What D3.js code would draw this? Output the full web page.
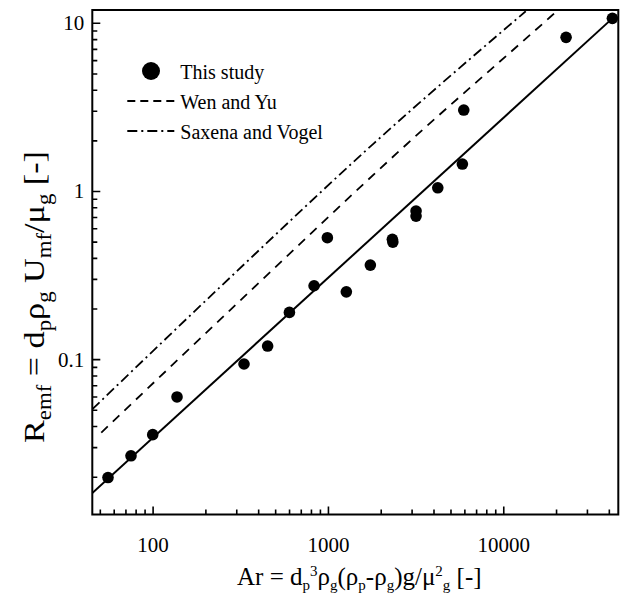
<!DOCTYPE html>
<html>
<head>
<meta charset="utf-8">
<script src="https://cdn.jsdelivr.net/npm/d3@7"></script>
<style>
  html, body { margin: 0; padding: 0; background: #fff; }
  svg { display: block; }
  text { font-family: "Liberation Serif", "Times New Roman", serif; fill: #000; }
</style>
</head>
<body>
<div id="chart"></div>
<script>
// Minimum fluidization: particle Reynolds number vs Archimedes number
const studyAr = [55.3, 74.8, 99.5, 136.9, 330, 450, 599, 828, 986, 1265, 1734, 2315, 2330, 3160, 3160, 4204, 5806, 5913, 22670, 41640];
const studyRe = [0.0199, 0.0268, 0.0358, 0.0600, 0.0942, 0.1205, 0.191, 0.275, 0.531, 0.253, 0.365, 0.52, 0.50, 0.765, 0.714, 1.052, 1.456, 3.05, 8.25, 10.70];

// correlation of this study (solid)
const fitAr = [45, 41640];
const fitRe = [0.0161, 10.70];

// Wen and Yu (dashed)
const wenYuAr = [50.6, 275, 2795, 18400, 20400];
const wenYuRe = [0.0368, 0.197, 1.91, 10.9, 12.0];

// Saxena and Vogel (dash-dot)
const saxenaAr = [45, 287, 1823, 13350];
const saxenaRe = [0.0507, 0.321, 1.94, 11.8];

const xTickValues = [100, 1000, 10000];
const xTickLabels = ["100", "1000", "10000"];
const yTickValues = [0.1, 1, 10];
const yTickLabels = ["0.1", "1", "10"];

const legendLabels = ["This study", "Wen and Yu", "Saxena and Vogel"];

const W = 625, H = 601;
const margin = { top: 10, right: 6.7, bottom: 86.5, left: 92.3 };
const iw = W - margin.left - margin.right;
const ih = H - margin.top - margin.bottom;

const svg = d3.select("#chart").append("svg").attr("width", W).attr("height", H);
const g = svg.append("g").attr("transform", `translate(${margin.left},${margin.top})`);

const x = d3.scaleLog().domain([45, 45000]).range([0, iw]);
const y = d3.scaleLog().domain([0.012, 12]).range([ih, 0]);

svg.append("defs").append("clipPath").attr("id", "plot-clip")
  .append("rect").attr("x", 0).attr("y", 0).attr("width", iw).attr("height", ih);

// minor ticks: integer multiples inside each decade
function minorTicks(domain) {
  const out = [];
  const lo = Math.floor(Math.log10(domain[0])), hi = Math.ceil(Math.log10(domain[1]));
  for (let e = lo; e <= hi; e++) {
    for (let k = 2; k <= 9; k++) {
      const v = +(k * Math.pow(10, e)).toPrecision(6);
      if (v > domain[0] && v < domain[1]) out.push(v);
    }
  }
  return out;
}

// tick labels
g.append("g").selectAll("text").data(xTickValues).join("text")
  .attr("x", d => x(d)).attr("y", ih + 37)
  .attr("text-anchor", "middle").attr("font-size", 21)
  .text((d, i) => xTickLabels[i]);
g.append("g").selectAll("text").data(yTickValues).join("text")
  .attr("x", -8).attr("y", d => y(d)).attr("dy", "0.33em")
  .attr("text-anchor", "end").attr("font-size", 21)
  .text((d, i) => yTickLabels[i]);

// curves
const line = d3.line().x(d => x(d[0])).y(d => y(d[1])).curve(d3.curveMonotoneX);
const plot = g.append("g").attr("clip-path", "url(#plot-clip)");

plot.append("path").datum(d3.zip(saxenaAr, saxenaRe))
  .attr("d", line).attr("fill", "none").attr("stroke", "#000")
  .attr("stroke-width", 1.8).attr("stroke-dasharray", "10,4,2,4");

plot.append("path").datum(d3.zip(wenYuAr, wenYuRe))
  .attr("d", line).attr("fill", "none").attr("stroke", "#000")
  .attr("stroke-width", 1.8).attr("stroke-dasharray", "9,7");

plot.append("path").datum(d3.zip(fitAr, fitRe))
  .attr("d", line).attr("fill", "none").attr("stroke", "#000").attr("stroke-width", 2);

plot.selectAll("circle.pt").data(d3.zip(studyAr, studyRe)).join("circle")
  .attr("class", "pt")
  .attr("cx", d => x(d[0])).attr("cy", d => y(d[1])).attr("r", 5.8).attr("fill", "#000");

// frame
g.append("rect").attr("x", 0).attr("y", 0).attr("width", iw).attr("height", ih)
  .attr("fill", "none").attr("stroke", "#000").attr("stroke-width", 2);

// tick marks pointing into the plot (bottom and left only)
const xTicks = xTickValues.map(v => ({ v, len: 8 })).concat(minorTicks(x.domain()).map(v => ({ v, len: 5 })));
const yTicks = yTickValues.map(v => ({ v, len: 8 })).concat(minorTicks(y.domain()).map(v => ({ v, len: 5 })));

g.append("path")
  .attr("d", xTicks.map(d => `M${x(d.v)},${ih}V${ih - d.len}`).join(""))
  .attr("fill", "none").attr("stroke", "#000").attr("stroke-width", 1.6);
g.append("path")
  .attr("d", yTicks.map(d => `M0,${y(d.v)}H${d.len}`).join(""))
  .attr("fill", "none").attr("stroke", "#000").attr("stroke-width", 1.6);

// legend
const lg = g.append("g").attr("transform", "translate(36,62)");
lg.append("circle").attr("cx", 22.7).attr("cy", -1).attr("r", 9).attr("fill", "#000");
lg.append("line").attr("x1", -1).attr("x2", 46).attr("y1", 29).attr("y2", 29)
  .attr("stroke", "#000").attr("stroke-width", 1.8).attr("stroke-dasharray", "8,5");
lg.append("line").attr("x1", -1).attr("x2", 46).attr("y1", 59).attr("y2", 59)
  .attr("stroke", "#000").attr("stroke-width", 1.8).attr("stroke-dasharray", "10,4,2,4");
legendLabels.forEach((t, i) => {
  lg.append("text").attr("x", 52).attr("y", 7 + i * 30).attr("font-size", 20).text(t);
});

// axis titles with sub/superscripts
function rich(textSel, parts, small) {
  parts.forEach(p => {
    const ts = textSel.append("tspan").text(p.t);
    if (p.s === "sub") ts.attr("font-size", small).attr("baseline-shift", "-35%");
    else if (p.s === "sup") ts.attr("font-size", small).attr("baseline-shift", "60%");
  });
}

const xt = svg.append("text").attr("x", margin.left + iw / 2 + 4).attr("y", 585)
  .attr("text-anchor", "middle").attr("font-size", 25);
rich(xt, [
  { t: "Ar = d" }, { t: "p", s: "sub" }, { t: "3", s: "sup" }, { t: "ρ" }, { t: "g", s: "sub" },
  { t: "(ρ" }, { t: "p", s: "sub" }, { t: "-ρ" }, { t: "g", s: "sub" }, { t: ")g/μ" },
  { t: "2", s: "sup" }, { t: "g", s: "sub" }, { t: " [-]" }
], 15);

const yt = svg.append("text")
  .attr("transform", `translate(44,297) rotate(-90)`)
  .attr("text-anchor", "middle").attr("font-size", 30)
  .attr("textLength", 292).attr("lengthAdjust", "spacingAndGlyphs");
rich(yt, [
  { t: "R" }, { t: "emf", s: "sub" }, { t: " = d" }, { t: "p", s: "sub" }, { t: "ρ" },
  { t: "g", s: "sub" }, { t: " U" }, { t: "mf", s: "sub" }, { t: "/μ" }, { t: "g", s: "sub" }, { t: " [-]" }
], 20);
</script>
</body>
</html>
